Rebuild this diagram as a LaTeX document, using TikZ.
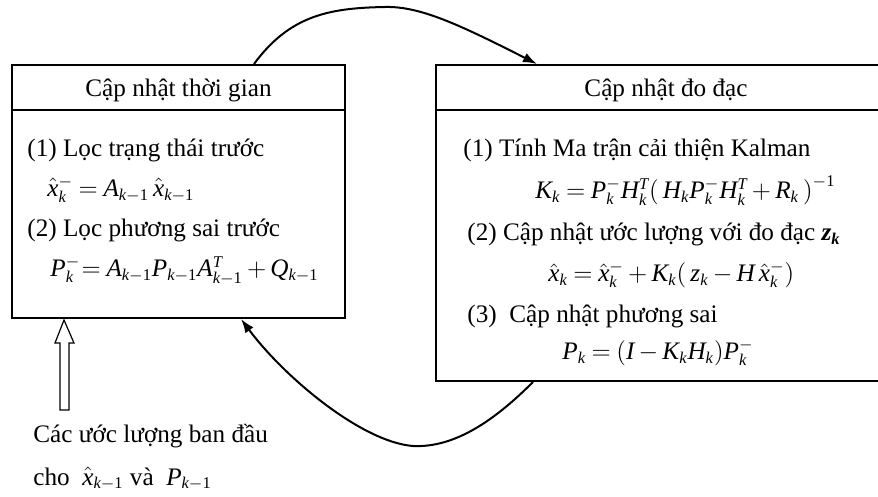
\documentclass[tikz,border=0pt]{standalone}
\usepackage{fix-cm}
\usepackage[no-math]{fontspec}
\setmainfont{Liberation Serif}
\newfontfamily\tnr{Liberation Serif}[NFSSFamily=tnr]
\DeclareSymbolFont{tletters}{TU}{tnr}{m}{it}
\DeclareSymbolFont{tdigits}{TU}{tnr}{m}{n}
\DeclareMathSymbol{x}{\mathalpha}{tletters}{`x}
\DeclareMathSymbol{k}{\mathalpha}{tletters}{`k}
\DeclareMathSymbol{z}{\mathalpha}{tletters}{`z}
\DeclareMathSymbol{A}{\mathalpha}{tletters}{`A}
\DeclareMathSymbol{P}{\mathalpha}{tletters}{`P}
\DeclareMathSymbol{Q}{\mathalpha}{tletters}{`Q}
\DeclareMathSymbol{T}{\mathalpha}{tletters}{`T}
\DeclareMathSymbol{K}{\mathalpha}{tletters}{`K}
\DeclareMathSymbol{H}{\mathalpha}{tletters}{`H}
\DeclareMathSymbol{R}{\mathalpha}{tletters}{`R}
\DeclareMathSymbol{I}{\mathalpha}{tletters}{`I}
\DeclareMathSymbol{1}{\mathalpha}{tdigits}{`1}
\DeclareMathSizes{12.6}{12.6}{8.2}{6}
\usetikzlibrary{arrows.meta,calc}
\newcommand\fs{\fontsize{12.6}{15}\selectfont\thickmuskip=4mu\medmuskip=3mu}
\begin{document}
\begin{tikzpicture}[x=0.5pt,y=-0.5pt,
  box/.style={draw, line width=1pt, inner sep=0pt},
  txt/.style={anchor=base west, inner sep=0pt, font=\fs},
  head/.style={anchor=base, inner sep=0pt, font=\fs},
  flow/.style={line width=1pt, -{Latex[length=7pt,width=5pt]}},
  hollow/.style={draw, line width=0.6pt, fill=white}]
\useasboundingbox (0,0) rectangle (878,497);
\clip (0,0) rectangle (878,497);
% boxes
\node[box, minimum width=166.5pt, minimum height=126.5pt] (lbox) at (178.5,191.5) {};
\node[box, minimum width=230.5pt, minimum height=158pt] (rbox) at (666.5,223) {};
\coordinate (hl) at (0,110);
\draw[line width=1pt] (lbox.west |- hl) -- (lbox.east |- hl);
\draw[line width=1pt] (rbox.west |- hl) -- (rbox.east |- hl);
% headers
\node[head] (lhead) at (178.5,97) {Cập nhật thời gian};
\node[head] (rhead) at (666,97) {Cập nhật đo đạc};
% left content
\node[txt] (l1) at (27,156.5) {(1) Lọc trạng thái trước};
\node[txt] (l2) at (47,196.5) {$\hat{x}_k^{-} = A_{k-1}\,\hat{x}_{k-1}$};
\node[txt] (l3) at (27,236.5) {(2) Lọc phương sai trước};
\node[txt] (l4) at (50,277) {$P_k^{-}\! = A_{k-1}P_{k-1}A_{k-1}^{T} + Q_{k-1}$};
% right content
\node[txt] (r1) at (463,156.5) {(1) Tính Ma trận cải thiện Kalman};
\node[txt] (r2) at (535,199) {$K_k = P_k^{-} H_k^{T} \bigl(\,H_k P_k^{-} H_k^{T} + R_k\,\bigr)^{-1}$};
\node[txt] (r3) at (467,241) {(2) Cập nhật ước lượng với đo đạc {\bfseries\itshape z\textsubscript{k}}};
\node[txt] (r4) at (548,282) {$\hat{x}_k = \hat{x}_k^{-} + K_k\bigl(\,z_k - H\,\hat{x}_k^{-}\bigr)$};
\node[txt] (r5) at (467,322.5) {(3)\ \ Cập nhật phương sai};
\node[txt] (r6) at (562,359.5) {$P_k = \bigl(I - K_k H_k\bigr) P_k^{-}$};
% initial estimates
\node[txt] (i1) at (33,442) {Các ước lượng ban đầu};
\node[txt] (i2) at (33,485) {cho\ \ $\hat{x}_{k-1}$\ và\ \ $P_{k-1}$};
% connectors
\draw[flow] ($(lbox.north west)+(243,0)$) .. controls (290,15) and (330,8) .. (385,7)
  .. controls (420,6) and (460,25) .. ($(rbox.north west)+(102,0)$);
\draw[flow] ($(rbox.south west)+(98,0)$) .. controls (495,420) and (455,448) .. (413,446)
  .. controls (362,442) and (285,378) .. ($(lbox.south west)+(230,0)$);
% hollow arrow
\coordinate (ht) at ($(lbox.south west)+(53,1)$);
\draw[hollow] (ht) -- ++(10,23) -- ++(-5,0) -- ++(0,67) -- ++(-9,0) -- ++(0,-67) -- ++(-5,0) -- cycle;
\end{tikzpicture}
\end{document}
